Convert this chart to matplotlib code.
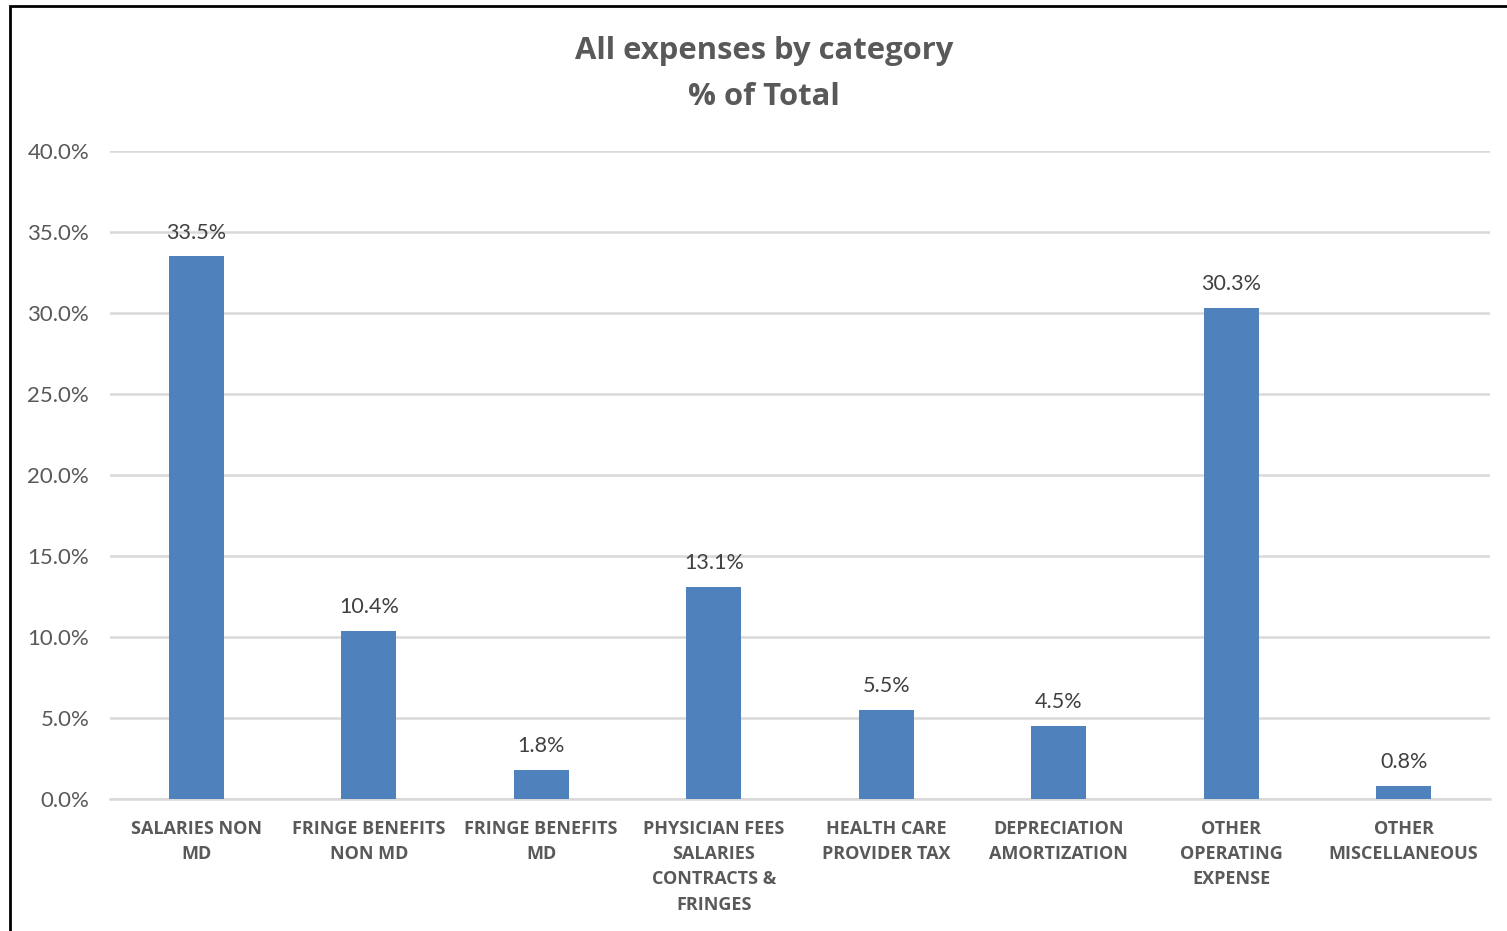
import numpy as np
import matplotlib.pyplot as plt
from matplotlib.patches import Rectangle
from matplotlib.ticker import FuncFormatter

plt.rcParams['font.family'] = ['Lato', 'DejaVu Sans']
BOLD = ['Open Sans', 'DejaVu Sans']

# Données
categories = ['SALARIES NON\nMD', 'FRINGE BENEFITS\nNON MD', 'FRINGE BENEFITS\nMD',
              'PHYSICIAN FEES\nSALARIES\nCONTRACTS &\nFRINGES', 'HEALTH CARE\nPROVIDER TAX',
              'DEPRECIATION\nAMORTIZATION', 'OTHER\nOPERATING\nEXPENSE', 'OTHER\nMISCELLANEOUS']
values = [33.5, 10.4, 1.8, 13.1, 5.5, 4.5, 30.3, 0.8]
yticks = [0, 5, 10, 15, 20, 25, 30, 35, 40]

fig = plt.figure(figsize=(15.07, 9.31), dpi=100)
ax = fig.add_axes([0.073, 0.1418, 0.9157, 0.696])

x = np.arange(len(categories))
bars = ax.bar(x, values, width=0.32, color='#4f81bd', zorder=3)

for xi, v in zip(x, values):
    ax.text(xi, v + 0.85, f'{v:.1f}%', ha='center', va='bottom', fontsize=15.5, color='#404040')

ax.set_xlim(-0.5, 7.5)
ax.set_ylim(0, 40)
ax.set_yticks(yticks)
ax.yaxis.set_major_formatter(FuncFormatter(lambda v, p: f'{v:.1f}%'))
ax.grid(axis='y', color='#d9d9d9', linewidth=1.8, zorder=0)
ax.set_xticks(x)
ax.set_xticklabels(categories, fontsize=13, fontweight='bold', family=BOLD,
                   color='#595959', linespacing=1.52)
ax.tick_params(axis='both', length=0)
ax.tick_params(axis='y', labelsize=16, labelcolor='#595959', pad=15)
ax.tick_params(axis='x', pad=15)
for s in ['top', 'right', 'left']:
    ax.spines[s].set_visible(False)
ax.spines['bottom'].set_color('#d9d9d9')
ax.spines['bottom'].set_linewidth(1.8)

fig.text(0.507, 0.9205, 'All expenses by category\n% of Total', ha='center', va='center',
         fontsize=22.3, fontweight='bold', family=BOLD, color='#595959', linespacing=1.7)

# cadre
fig.patches.append(Rectangle((10 / 1507, -0.1), 1.2, 1.1 - 6 / 931, transform=fig.transFigure,
                             fill=False, edgecolor='black', linewidth=2))

fig.savefig('out.png', dpi=100)
